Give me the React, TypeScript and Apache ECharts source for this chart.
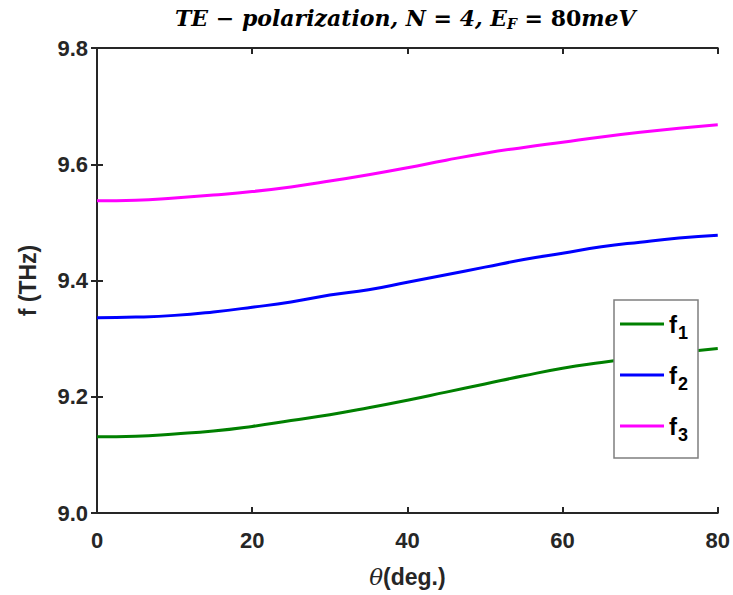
import React, { useEffect, useRef } from "react";
import * as echarts from "echarts";

const angles = [0, 5, 10, 15, 20, 25, 30, 35, 40, 45, 50, 55, 60, 65, 70, 75, 80];
const f1 = [9.131, 9.132, 9.136, 9.141, 9.149, 9.159, 9.169, 9.181, 9.194, 9.208, 9.222, 9.236, 9.249, 9.259, 9.268, 9.276, 9.283];
const f2 = [9.336, 9.337, 9.340, 9.346, 9.354, 9.363, 9.375, 9.384, 9.397, 9.410, 9.423, 9.436, 9.447, 9.458, 9.466, 9.473, 9.478];
const f3 = [9.537, 9.538, 9.542, 9.547, 9.553, 9.561, 9.571, 9.582, 9.594, 9.607, 9.619, 9.629, 9.638, 9.647, 9.655, 9.662, 9.668];
const seriesNames = ["f1", "f2", "f3"];
const seriesColors = ["#008000", "#0000FF", "#FF00FF"];

export default function App() {
  const ref = useRef<HTMLDivElement>(null);
  useEffect(() => {
    if (!ref.current) return;
    const chart = echarts.init(ref.current, null, { renderer: "svg" });
    const axisColor = "#262626";
    const labelFont = { fontFamily: "Liberation Sans, Arial, sans-serif", fontWeight: "bold" as const, fontSize: 22, color: "#262626" };
    const data = [f1, f2, f3];
    const serifI = { fontFamily: "DejaVu Serif, serif", fontStyle: "italic", fontWeight: "bold", fontSize: 22, color: "#000" };
    chart.setOption({
      animation: false,
      backgroundColor: "#ffffff",
      title: {
        text: "{i|TE − polarization, N = 4, E}{sub|F}{i| = }{u|80}{i|meV}",
        left: 170,
        top: 0,
        textStyle: {
          rich: {
            i: serifI,
            sub: { ...serifI, fontSize: 14, padding: [12, 0, 0, 0] },
            u: { ...serifI, fontStyle: "normal" },
          },
        },
      },
      grid: { left: 97, right: 15, top: 48, bottom: 82 },
      legend: {
        data: seriesNames,
        orient: "vertical",
        left: 614,
        top: 300,
        itemWidth: 44,
        itemHeight: 3,
        itemGap: 21,
        padding: [12, 10, 14, 6],
        borderColor: "#7f7f7f",
        borderWidth: 1.5,
        backgroundColor: "#fff",
        icon: "rect",
        formatter: (name: string) => `{b|f}{s|${name.slice(1)}}`,
        textStyle: {
          rich: {
            b: { fontFamily: "Liberation Sans, Arial, sans-serif", fontWeight: "bold", fontSize: 24, color: "#000", lineHeight: 26 },
            s: { fontFamily: "Liberation Sans, Arial, sans-serif", fontWeight: "bold", fontSize: 18, color: "#000", padding: [18, 0, 0, 1] },
          },
        },
      },
      xAxis: [
        {
          type: "value",
          min: 0,
          max: 80,
          interval: 20,
          name: "{t|θ}{d|(deg.)}",
          nameLocation: "middle",
          nameGap: 52,
          nameTextStyle: {
            rich: {
              t: { fontFamily: "DejaVu Serif, serif", fontStyle: "italic", fontSize: 23, color: "#262626" },
              d: { fontFamily: "Liberation Sans, Arial, sans-serif", fontWeight: "bold", fontSize: 23, color: "#262626" },
            },
          },
          axisLine: { show: true, lineStyle: { color: axisColor, width: 2 } },
          axisTick: { show: true, inside: true, length: 6, lineStyle: { color: axisColor, width: 2 } },
          axisLabel: { ...labelFont, margin: 16 },
          splitLine: { show: false },
        },
        {
          type: "value",
          position: "top",
          min: 0,
          max: 80,
          interval: 20,
          axisLine: { show: true, lineStyle: { color: axisColor, width: 2 } },
          axisTick: { show: true, inside: true, length: 6, lineStyle: { color: axisColor, width: 2 } },
          axisLabel: { show: false },
          splitLine: { show: false },
        },
      ],
      yAxis: [
        {
          type: "value",
          min: 9.0,
          max: 9.8,
          interval: 0.2,
          name: "f (THz)",
          nameLocation: "middle",
          nameGap: 58,
          nameRotate: 90,
          nameTextStyle: { fontFamily: "Liberation Sans, Arial, sans-serif", fontWeight: "bold", fontSize: 23, color: "#262626" },
          axisLine: { show: true, lineStyle: { color: axisColor, width: 2 } },
          axisTick: { show: true, inside: true, length: 6, lineStyle: { color: axisColor, width: 2 } },
          axisLabel: { ...labelFont, margin: 9, formatter: (v: number) => v.toFixed(1) },
          splitLine: { show: false },
        },
        {
          type: "value",
          position: "right",
          min: 9.0,
          max: 9.8,
          interval: 0.2,
          axisLine: { show: true, lineStyle: { color: axisColor, width: 2 } },
          axisTick: { show: true, inside: true, length: 6, lineStyle: { color: axisColor, width: 2 } },
          axisLabel: { show: false },
          splitLine: { show: false },
        },
      ],
      series: seriesNames.map((name, i) => ({
        name,
        type: "line",
        smooth: true,
        showSymbol: false,
        symbol: "none",
        color: seriesColors[i],
        lineStyle: { width: 3, color: seriesColors[i] },
        data: angles.map((a, k) => [a, data[i][k]]),
        z: 2,
      })),
    });
    return () => chart.dispose();
  }, []);
  return <div ref={ref} style={{ position: "fixed", left: 0, top: 0, width: 733, height: 595 }} />;
}
